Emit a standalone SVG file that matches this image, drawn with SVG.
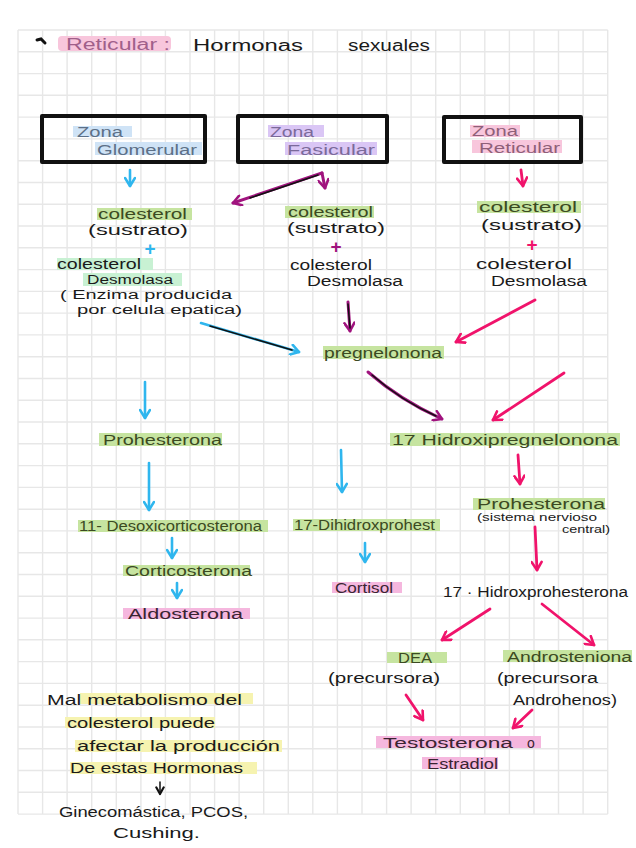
<svg xmlns="http://www.w3.org/2000/svg" width="636" height="848" viewBox="0 0 636 848">
<style>
.t{font-family:"Liberation Sans",Arial,sans-serif;font-size:14px;fill:#1a1a1a}
.ti{font-size:16px}
.s2{font-size:12.5px}
.sm{font-size:10.5px}
.ol{fill:#3b4a22}
.dk{fill:#3a2432}
.g{fill:#c6e4a0}
.mi{fill:#c8f1d3}
.pk{fill:#f5b7de}
.yl{fill:#f6f3b0}
.bl{fill:#cfe3f6}
.vi{fill:#dac6f5}
.lp{fill:#f8c6dc}
.box{fill:none;stroke:#111;stroke-width:4;stroke-linejoin:round}
.plus{font-family:"Liberation Sans",Arial,sans-serif;font-size:19px;font-weight:bold;text-anchor:middle}
.c{fill:none;stroke-linecap:round;stroke-linejoin:round}
.cb{stroke:#2fb6ee;stroke-width:2.6}
.cm{stroke:#a0137e;stroke-width:3}
.cr{stroke:#f0136b;stroke-width:2.8}
.ck{stroke:#111;stroke-width:1.5}
.mh{fill:none;stroke-width:2.6;stroke-linecap:round;stroke-linejoin:round}
</style>
<defs>
<marker id="aB" viewBox="0 0 12 12" refX="10" refY="6" markerWidth="12" markerHeight="12" markerUnits="userSpaceOnUse" orient="auto"><path d="M2,1 L10,6 L2,11" class="mh" stroke="#2fb6ee"/></marker>
<marker id="aM" viewBox="0 0 12 12" refX="10" refY="6" markerWidth="12" markerHeight="12" markerUnits="userSpaceOnUse" orient="auto"><path d="M2,1 L10,6 L2,11" class="mh" stroke="#a0137e"/></marker>
<marker id="aR" viewBox="0 0 12 12" refX="10" refY="6" markerWidth="12" markerHeight="12" markerUnits="userSpaceOnUse" orient="auto"><path d="M2,1 L10,6 L2,11" class="mh" stroke="#f0136b"/></marker>
<marker id="aK" viewBox="0 0 12 12" refX="10" refY="6" markerWidth="10" markerHeight="10" markerUnits="userSpaceOnUse" orient="auto"><path d="M2,1.5 L10,6 L2,10.5" class="mh" stroke="#111" stroke-width="1.8"/></marker>
</defs>
<rect width="636" height="848" fill="#ffffff"/>
<g id="grid" stroke="#e7e7e7" stroke-width="1.4" fill="none">
<path d="M18 30V814.1M42.6 30V814.1M67.1 30V814.1M91.7 30V814.1M116.3 30V814.1M140.9 30V814.1M165.4 30V814.1M190 30V814.1M214.6 30V814.1M239.1 30V814.1M263.7 30V814.1M288.3 30V814.1M312.8 30V814.1M337.4 30V814.1M362 30V814.1M386.6 30V814.1M411.1 30V814.1M435.7 30V814.1M460.3 30V814.1M484.8 30V814.1M509.4 30V814.1M534 30V814.1M558.5 30V814.1M583.1 30V814.1M607.7 30V814.1"/>
<path d="M18 30H607.7M18 51.8H607.7M18 73.6H607.7M18 95.3H607.7M18 117.1H607.7M18 138.9H607.7M18 160.7H607.7M18 182.5H607.7M18 204.2H607.7M18 226H607.7M18 247.8H607.7M18 269.6H607.7M18 291.4H607.7M18 313.1H607.7M18 334.9H607.7M18 356.7H607.7M18 378.5H607.7M18 400.3H607.7M18 422H607.7M18 443.8H607.7M18 465.6H607.7M18 487.4H607.7M18 509.2H607.7M18 530.9H607.7M18 552.7H607.7M18 574.5H607.7M18 596.3H607.7M18 618.1H607.7M18 639.8H607.7M18 661.6H607.7M18 683.4H607.7M18 705.2H607.7M18 727H607.7M18 748.7H607.7M18 770.5H607.7M18 792.3H607.7M18 814.1H607.7"/>
</g>

<g id="title">
<path d="M37,40 L41,39 L45,43" fill="none" stroke="#111" stroke-width="3" stroke-linecap="round"/>
<rect x="58" y="36" width="113" height="15" rx="4" class="lp"/>
<text x="66" y="50" class="t ti" style="fill:#a0608a" textLength="104" lengthAdjust="spacingAndGlyphs">Reticular :</text>
<text x="193" y="51" class="t ti" textLength="110" lengthAdjust="spacingAndGlyphs">Hormonas</text>
<text x="348" y="51" class="t ti" textLength="82" lengthAdjust="spacingAndGlyphs">sexuales</text>
</g>

<g id="zona-glomerular">
<rect x="42" y="116" width="163" height="46" class="box"/>
<rect x="73" y="126" width="59" height="11" class="bl"/>
<text x="77" y="137" class="t" style="fill:#5d7087" textLength="46" lengthAdjust="spacingAndGlyphs">Zona</text>
<rect x="95" y="142" width="107" height="13" class="bl"/>
<text x="97" y="155" class="t" style="fill:#5d7087" textLength="100" lengthAdjust="spacingAndGlyphs">Glomerular</text>
</g>

<g id="zona-fasicular">
<rect x="238" y="116" width="149" height="46" class="box"/>
<rect x="268" y="125" width="56" height="12" class="vi"/>
<text x="270" y="137" class="t" style="fill:#7b6a9a" textLength="44" lengthAdjust="spacingAndGlyphs">Zona</text>
<rect x="285" y="142" width="92" height="13" class="vi"/>
<text x="287" y="155" class="t" style="fill:#7b6a9a" textLength="88" lengthAdjust="spacingAndGlyphs">Fasicular</text>
</g>

<g id="zona-reticular">
<rect x="444" y="117" width="137" height="45" class="box"/>
<rect x="470" y="125" width="50" height="12" class="lp"/>
<text x="472" y="136" class="t" style="fill:#8e5f78" textLength="46" lengthAdjust="spacingAndGlyphs">Zona</text>
<rect x="472" y="140" width="90" height="13" class="lp"/>
<text x="479" y="153" class="t" style="fill:#8e5f78" textLength="81" lengthAdjust="spacingAndGlyphs">Reticular</text>
</g>

<g id="col1-sustrato">
<rect x="97" y="208" width="95" height="12" class="g"/>
<text x="98" y="219" class="t ol" textLength="89" lengthAdjust="spacingAndGlyphs">colesterol</text>
<text x="88" y="235" class="t" textLength="100" lengthAdjust="spacingAndGlyphs">(sustrato)</text>
<text x="150" y="255" class="plus" fill="#2fb6ee">+</text>
<rect x="57" y="258" width="96" height="12" class="mi"/>
<text x="57" y="269" class="t" textLength="84" lengthAdjust="spacingAndGlyphs">colesterol</text>
<rect x="83" y="273" width="99" height="13" class="mi"/>
<text x="87" y="284" class="t s2" textLength="86" lengthAdjust="spacingAndGlyphs">Desmolasa</text>
<text x="60" y="299" class="t s2" textLength="172" lengthAdjust="spacingAndGlyphs">( Enzima producida</text>
<text x="77" y="314" class="t s2" textLength="165" lengthAdjust="spacingAndGlyphs">por celula epatica)</text>
</g>

<g id="col2-sustrato">
<rect x="285" y="206" width="89" height="12" class="g"/>
<text x="288" y="217" class="t ol" textLength="85" lengthAdjust="spacingAndGlyphs">colesterol</text>
<text x="287" y="233" class="t" textLength="98" lengthAdjust="spacingAndGlyphs">(sustrato)</text>
<text x="336" y="253" class="plus" fill="#a0137e">+</text>
<text x="290" y="270" class="t" textLength="82" lengthAdjust="spacingAndGlyphs">colesterol</text>
<text x="307" y="286" class="t" textLength="96" lengthAdjust="spacingAndGlyphs">Desmolasa</text>
</g>

<g id="col3-sustrato">
<rect x="477" y="201" width="104" height="12" class="g"/>
<text x="479" y="212" class="t ol" textLength="98" lengthAdjust="spacingAndGlyphs">colesterol</text>
<text x="481" y="230" class="t" textLength="101" lengthAdjust="spacingAndGlyphs">(sustrato)</text>
<text x="532" y="251" class="plus" fill="#f0136b">+</text>
<text x="476" y="269" class="t" textLength="96" lengthAdjust="spacingAndGlyphs">colesterol</text>
<text x="491" y="286" class="t" textLength="96" lengthAdjust="spacingAndGlyphs">Desmolasa</text>
</g>

<g id="pregnelonona">
<rect x="323" y="346" width="121" height="13" class="g"/>
<text x="324" y="358" class="t ol" textLength="118" lengthAdjust="spacingAndGlyphs">pregnelonona</text>
</g>

<g id="prohesterona-1">
<rect x="99" y="433" width="123" height="13" class="g"/>
<text x="103" y="445" class="t ol" textLength="119" lengthAdjust="spacingAndGlyphs">Prohesterona</text>
</g>

<g id="hidroxipregnelonona">
<rect x="390" y="433" width="230" height="13" class="g"/>
<text x="392" y="445" class="t ol" textLength="226" lengthAdjust="spacingAndGlyphs">17  Hidroxipregnelonona</text>
</g>

<g id="desoxicorticosterona">
<rect x="78" y="520" width="190" height="12" class="g"/>
<text x="79" y="531" class="t ol" textLength="183" lengthAdjust="spacingAndGlyphs">11- Desoxicorticosterona</text>
</g>

<g id="dihidroxprohest">
<rect x="293" y="519" width="147" height="12" class="g"/>
<text x="294" y="530" class="t ol" textLength="141" lengthAdjust="spacingAndGlyphs">17-Dihidroxprohest</text>
</g>

<g id="prohesterona-2">
<rect x="473" y="498" width="132" height="12" class="g"/>
<text x="477" y="509" class="t ol" textLength="128" lengthAdjust="spacingAndGlyphs">Prohesterona</text>
<text x="477" y="521" class="t sm" textLength="120" lengthAdjust="spacingAndGlyphs">(sistema nervioso</text>
<text x="562" y="533" class="t sm" textLength="48" lengthAdjust="spacingAndGlyphs">central)</text>
</g>

<g id="corticosterona">
<rect x="123" y="565" width="127" height="11" class="g"/>
<text x="125" y="576" class="t ol" textLength="127" lengthAdjust="spacingAndGlyphs">Corticosterona</text>
</g>

<g id="cortisol">
<rect x="332" y="582" width="70" height="11" class="pk"/>
<text x="335" y="593" class="t dk" textLength="58" lengthAdjust="spacingAndGlyphs">Cortisol</text>
</g>

<g id="hidroxprohesterona">
<text x="443" y="597" class="t" textLength="185" lengthAdjust="spacingAndGlyphs">17 · Hidroxprohesterona</text>
</g>

<g id="aldosterona">
<rect x="123" y="608" width="127" height="11" class="pk"/>
<text x="128" y="619" class="t dk" textLength="115" lengthAdjust="spacingAndGlyphs">Aldosterona</text>
</g>

<g id="dea">
<rect x="387" y="652" width="60" height="11" class="g"/>
<text x="398" y="663" class="t ol" textLength="34" lengthAdjust="spacingAndGlyphs">DEA</text>
<text x="328" y="683" class="t" textLength="112" lengthAdjust="spacingAndGlyphs">(precursora)</text>
</g>

<g id="androsteniona">
<rect x="503" y="650" width="129" height="12" class="g"/>
<text x="507" y="662" class="t ol" textLength="125" lengthAdjust="spacingAndGlyphs">Androsteniona</text>
<text x="497" y="683" class="t" textLength="101" lengthAdjust="spacingAndGlyphs">(precursora</text>
<text x="513" y="705" class="t" textLength="104" lengthAdjust="spacingAndGlyphs">Androhenos)</text>
</g>

<g id="testosterona">
<rect x="376" y="736" width="165" height="12" class="pk"/>
<text x="383" y="748" class="t dk" textLength="130" lengthAdjust="spacingAndGlyphs">Testosterona</text>
<text x="527" y="748" class="t dk">o</text>
<rect x="422" y="757" width="76" height="12" class="pk"/>
<text x="427" y="769" class="t dk" textLength="71" lengthAdjust="spacingAndGlyphs">Estradiol</text>
</g>

<g id="nota">
<rect x="80" y="693" width="173" height="11" class="yl"/>
<text x="47" y="705" class="t" textLength="195" lengthAdjust="spacingAndGlyphs">Mal metabolismo del</text>
<rect x="65" y="717" width="150" height="11" class="yl"/>
<text x="67" y="728" class="t" textLength="148" lengthAdjust="spacingAndGlyphs">colesterol puede</text>
<rect x="75" y="740" width="207" height="12" class="yl"/>
<text x="77" y="751" class="t" textLength="203" lengthAdjust="spacingAndGlyphs">afectar la producción</text>
<rect x="70" y="762" width="187" height="12" class="yl"/>
<text x="70" y="773" class="t" textLength="173" lengthAdjust="spacingAndGlyphs">De estas Hormonas</text>
</g>

<g id="consecuencias">
<text x="59" y="817" class="t" textLength="189" lengthAdjust="spacingAndGlyphs">Ginecomástica, PCOS,</text>
<text x="113" y="838" class="t" textLength="87" lengthAdjust="spacingAndGlyphs">Cushing.</text>
</g>

<g id="connectors">
<path class="c cb" d="M130,170 L130,186" marker-end="url(#aB)"/>
<path class="c cm" d="M322,173 L325,188" marker-end="url(#aM)"/>
<path class="c cm" d="M322,173 L233,203" marker-end="url(#aM)"/>
<path class="c ck" d="M318,175 L250,198"/>
<path class="c cr" d="M521,170 L523,186" marker-end="url(#aR)"/>
<path class="c cb" d="M201,323 L299,352" marker-end="url(#aB)"/>
<path class="c ck" d="M210,326 L292,350"/>
<path class="c cm" d="M348,302 L350,331" marker-end="url(#aM)"/>
<path class="c ck" d="M348,304 L350,328"/>
<path class="c cr" d="M535,300 L456,342" marker-end="url(#aR)"/>
<path class="c cm" d="M368,372 Q400,400 442,419" marker-end="url(#aM)"/>
<path class="c ck" d="M372,375 Q402,401 436,416"/>
<path class="c cr" d="M564,373 L493,420" marker-end="url(#aR)"/>
<path class="c cb" d="M145,382 L145,418" marker-end="url(#aB)"/>
<path class="c cb" d="M149,463 L149,510" marker-end="url(#aB)"/>
<path class="c cb" d="M341,450 L342,492" marker-end="url(#aB)"/>
<path class="c cr" d="M518,455 L520,484" marker-end="url(#aR)"/>
<path class="c cb" d="M172,538 L172,558" marker-end="url(#aB)"/>
<path class="c cb" d="M365,543 L365,562" marker-end="url(#aB)"/>
<path class="c cb" d="M177,583 L177,598" marker-end="url(#aB)"/>
<path class="c cr" d="M535,527 L537,570" marker-end="url(#aR)"/>
<path class="c cr" d="M490,609 L442,640" marker-end="url(#aR)"/>
<path class="c cr" d="M542,604 L594,645" marker-end="url(#aR)"/>
<path class="c cr" d="M406,695 L423,720" marker-end="url(#aR)"/>
<path class="c cr" d="M532,710 L513,728" marker-end="url(#aR)"/>
<path class="c ck" d="M160,782 L160,794" marker-end="url(#aK)"/>
</g>
</svg>
